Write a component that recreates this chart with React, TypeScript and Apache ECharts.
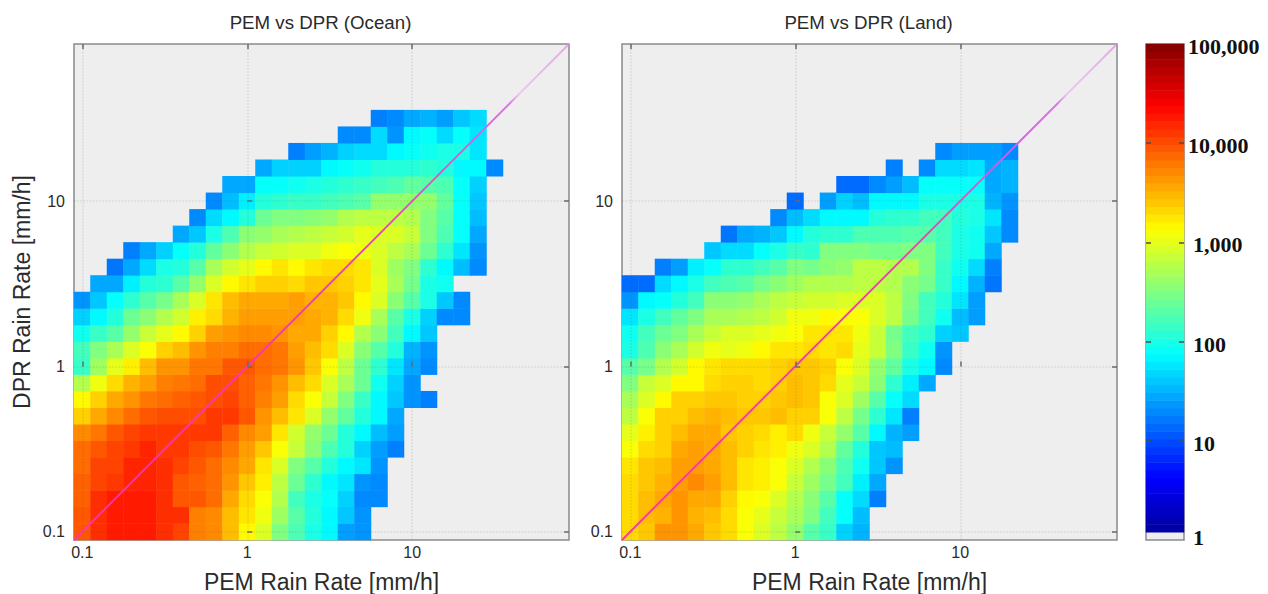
import React, { useEffect, useRef } from "react";
import * as echarts from "echarts";

// Bin centres of the PEM / DPR rain rate axes [mm/h]
const rateBins = [
  "0.1", "0.126", "0.158", "0.2", "0.251", "0.316", "0.398", "0.501", "0.631", "0.794",
  "1", "1.26", "1.58", "2", "2.51", "3.16", "3.98", "5.01", "6.31", "7.94",
  "10", "12.6", "15.8", "20", "25.1", "31.6", "39.8", "50.1", "63.1", "79.4",
];
const rateTickLog = [-1, 0, 1];
const rateTickLabels = ["0.1", "1", "10"];
const countTickLog = [0, 1, 2, 3, 4, 5];
const countTickLabels = ["1", "10", "100", "1,000", "10,000", "100,000"];

// log10(count) per cell; rows go from the lowest DPR bin upward, 0 = no samples
const ocean: number[][] = [
  [3.95, 4.15, 4.25, 4.25, 4.25, 4.15, 4.05, 3.75, 3.7, 3.45, 3.15, 2.95, 2.5, 2.25, 2.0, 1.85, 1.4, 1.35],
  [3.95, 4.15, 4.25, 4.25, 4.25, 4.15, 4.15, 3.75, 3.7, 3.45, 3.25, 3.05, 2.65, 2.3, 2.05, 1.85, 1.6, 1.35],
  [3.9, 4.15, 4.25, 4.25, 4.25, 4.15, 3.95, 3.95, 3.85, 3.55, 3.3, 3.1, 2.75, 2.2, 2.0, 1.9, 1.65, 1.3, 1.3],
  [3.9, 4.05, 4.1, 4.2, 4.2, 4.15, 3.95, 3.9, 3.85, 3.65, 3.4, 3.2, 2.8, 2.4, 2.1, 1.85, 1.75, 1.35, 1.3],
  [3.85, 4.05, 4.05, 4.2, 4.2, 4.15, 4.05, 3.95, 3.85, 3.7, 3.55, 3.25, 2.95, 2.5, 2.3, 2.05, 1.85, 1.75, 1.35],
  [3.85, 3.95, 4.05, 4.1, 4.2, 4.1, 4.1, 4.0, 3.95, 3.8, 3.6, 3.4, 3.1, 2.85, 2.55, 2.25, 2.05, 1.65, 1.4, 1.25],
  [3.7, 3.8, 3.95, 4.05, 4.1, 4.1, 4.1, 4.1, 4.1, 3.9, 3.7, 3.6, 3.25, 2.9, 2.6, 2.4, 2.05, 1.85, 1.55, 1.4],
  [3.35, 3.55, 3.7, 3.85, 3.95, 4.0, 4.0, 4.0, 4.1, 4.1, 3.95, 3.65, 3.45, 3.25, 2.95, 2.6, 2.35, 2.05, 1.85, 1.45],
  [3.15, 3.35, 3.55, 3.65, 3.8, 3.85, 3.9, 3.95, 4.0, 4.05, 3.9, 3.75, 3.6, 3.3, 3.1, 2.85, 2.5, 2.15, 1.85, 1.6, 1.35, 1.25],
  [2.75, 3.05, 3.3, 3.5, 3.6, 3.75, 3.8, 3.85, 4.0, 4.0, 3.9, 3.8, 3.65, 3.45, 3.3, 2.95, 2.7, 2.4, 1.95, 1.65, 1.35],
  [2.15, 2.65, 3.0, 3.2, 3.45, 3.65, 3.65, 3.8, 3.8, 3.95, 3.95, 3.85, 3.8, 3.65, 3.4, 3.1, 2.8, 2.4, 2.1, 1.75, 1.45, 1.3],
  [2.2, 2.5, 2.7, 2.95, 3.1, 3.35, 3.45, 3.65, 3.75, 3.75, 3.85, 3.85, 3.8, 3.6, 3.45, 3.3, 2.95, 2.55, 2.3, 2.05, 1.5, 1.35],
  [1.95, 2.15, 2.3, 2.6, 2.85, 3.0, 3.15, 3.35, 3.6, 3.65, 3.7, 3.7, 3.65, 3.55, 3.55, 3.35, 3.15, 2.75, 2.55, 2.2, 1.85, 1.6],
  [1.65, 1.85, 2.05, 2.4, 2.55, 2.75, 2.9, 3.2, 3.3, 3.5, 3.6, 3.6, 3.6, 3.6, 3.55, 3.5, 3.3, 3.05, 2.7, 2.3, 2.0, 1.65, 1.3, 1.3],
  [1.35, 1.6, 1.9, 2.1, 2.3, 2.45, 2.7, 2.95, 3.25, 3.45, 3.55, 3.55, 3.55, 3.6, 3.5, 3.5, 3.4, 3.15, 2.95, 2.55, 2.3, 2.0, 1.6, 1.3],
  [0, 1.45, 1.45, 1.8, 2.05, 2.1, 2.3, 2.6, 2.95, 3.15, 3.25, 3.35, 3.35, 3.3, 3.4, 3.4, 3.35, 3.25, 3.0, 2.7, 2.45, 2.0, 1.95],
  [0, 0, 1.2, 1.45, 1.7, 2.0, 2.05, 2.3, 2.7, 2.9, 3.0, 3.15, 3.25, 3.15, 3.25, 3.3, 3.3, 3.25, 2.95, 2.65, 2.5, 2.1, 1.85, 1.55, 1.3],
  [0, 0, 0, 1.25, 1.45, 1.65, 1.9, 2.05, 2.35, 2.55, 2.75, 2.85, 2.9, 2.95, 2.95, 3.05, 3.1, 3.05, 2.95, 2.8, 2.7, 2.4, 2.1, 1.75, 1.35],
  [0, 0, 0, 0, 0, 0, 1.45, 1.6, 2.0, 2.25, 2.55, 2.6, 2.7, 2.75, 2.8, 2.85, 2.9, 3.0, 2.95, 2.95, 2.85, 2.5, 2.25, 1.9, 1.45],
  [0, 0, 0, 0, 0, 0, 0, 1.3, 1.7, 1.85, 2.05, 2.4, 2.5, 2.5, 2.55, 2.6, 2.75, 2.8, 2.8, 2.8, 2.75, 2.5, 2.3, 1.9, 1.55],
  [0, 0, 0, 0, 0, 0, 0, 0, 1.3, 1.55, 1.8, 2.05, 2.1, 2.15, 2.15, 2.2, 2.25, 2.3, 2.6, 2.6, 2.6, 2.6, 2.35, 1.9, 1.6],
  [0, 0, 0, 0, 0, 0, 0, 0, 0, 1.45, 1.45, 1.9, 1.9, 1.95, 2.0, 2.05, 2.1, 2.15, 2.2, 2.25, 2.35, 2.3, 2.25, 1.9, 1.65],
  [0, 0, 0, 0, 0, 0, 0, 0, 0, 0, 0, 1.45, 1.65, 1.65, 1.65, 1.85, 1.9, 1.95, 2.05, 2.05, 2.05, 2.1, 2.05, 1.85, 1.85, 1.3],
  [0, 0, 0, 0, 0, 0, 0, 0, 0, 0, 0, 0, 0, 1.25, 1.4, 1.5, 1.65, 1.7, 1.7, 1.85, 1.9, 1.95, 2.0, 2.0, 1.75],
  [0, 0, 0, 0, 0, 0, 0, 0, 0, 0, 0, 0, 0, 0, 0, 0, 1.3, 1.3, 1.7, 1.35, 1.85, 1.9, 1.7, 1.9, 1.75],
  [0, 0, 0, 0, 0, 0, 0, 0, 0, 0, 0, 0, 0, 0, 0, 0, 0, 0, 1.25, 1.3, 1.45, 1.5, 1.4, 1.6, 1.7],
];

const land: number[][] = [
  [3.3, 3.4, 3.65, 3.65, 3.55, 3.4, 3.3, 3.1, 2.95, 2.8, 2.6, 2.3, 2.15, 1.65, 1.5],
  [3.3, 3.45, 3.5, 3.65, 3.5, 3.45, 3.3, 3.1, 3.0, 2.85, 2.7, 2.5, 2.2, 1.9, 1.55],
  [3.3, 3.45, 3.55, 3.65, 3.55, 3.55, 3.35, 3.15, 3.1, 2.95, 2.75, 2.55, 2.3, 1.9, 1.7, 1.25],
  [3.3, 3.4, 3.5, 3.6, 3.7, 3.6, 3.45, 3.25, 3.2, 3.1, 2.85, 2.65, 2.45, 2.2, 1.8, 1.45],
  [3.25, 3.4, 3.45, 3.6, 3.6, 3.55, 3.45, 3.25, 3.2, 3.1, 2.95, 2.75, 2.55, 2.25, 1.95, 1.6, 1.35],
  [3.1, 3.3, 3.35, 3.55, 3.6, 3.55, 3.45, 3.35, 3.25, 3.2, 3.05, 2.95, 2.75, 2.35, 2.05, 1.6, 1.55],
  [3.0, 3.2, 3.35, 3.45, 3.55, 3.55, 3.4, 3.35, 3.3, 3.2, 3.3, 3.05, 2.85, 2.6, 2.3, 1.85, 1.5, 1.4],
  [2.8, 3.1, 3.35, 3.35, 3.45, 3.5, 3.45, 3.4, 3.4, 3.45, 3.35, 3.35, 3.1, 2.8, 2.45, 2.1, 1.75, 1.25],
  [2.7, 2.95, 3.15, 3.35, 3.35, 3.4, 3.4, 3.35, 3.35, 3.4, 3.45, 3.4, 3.1, 2.95, 2.65, 2.3, 1.9, 1.7],
  [2.5, 2.85, 2.95, 3.15, 3.15, 3.3, 3.35, 3.35, 3.3, 3.35, 3.45, 3.4, 3.3, 3.0, 2.85, 2.55, 2.1, 1.8, 1.45],
  [2.3, 2.45, 2.75, 2.9, 3.15, 3.25, 3.3, 3.3, 3.3, 3.35, 3.4, 3.4, 3.35, 3.1, 2.95, 2.6, 2.35, 2.0, 1.85, 1.3],
  [2.0, 2.25, 2.55, 2.7, 2.9, 3.05, 3.0, 3.05, 3.15, 3.25, 3.25, 3.3, 3.25, 3.3, 3.0, 2.85, 2.5, 2.15, 1.95, 1.35],
  [1.95, 2.2, 2.4, 2.5, 2.7, 2.85, 2.95, 2.95, 3.0, 3.05, 3.1, 3.25, 3.25, 3.25, 3.05, 2.85, 2.45, 2.2, 2.1, 1.65, 1.6],
  [1.75, 2.0, 2.2, 2.35, 2.5, 2.7, 2.7, 2.75, 2.8, 2.9, 3.05, 3.05, 3.15, 3.1, 3.1, 2.95, 2.8, 2.45, 2.2, 1.95, 1.55, 1.4],
  [1.35, 1.85, 1.9, 2.05, 2.2, 2.55, 2.55, 2.6, 2.7, 2.8, 2.85, 2.9, 2.9, 2.95, 2.95, 2.95, 2.8, 2.5, 2.2, 2.05, 1.75, 1.4],
  [1.15, 1.15, 1.7, 1.85, 2.0, 2.2, 2.25, 2.3, 2.45, 2.55, 2.65, 2.75, 2.75, 2.75, 2.8, 2.8, 2.75, 2.55, 2.45, 2.15, 1.85, 1.5, 1.2],
  [0, 0, 1.25, 1.4, 1.8, 1.9, 2.1, 2.1, 2.2, 2.3, 2.5, 2.45, 2.55, 2.6, 2.8, 2.8, 2.75, 2.75, 2.5, 2.15, 1.95, 1.7, 1.25],
  [0, 0, 0, 0, 0, 1.6, 1.7, 1.7, 1.9, 2.0, 2.15, 2.1, 2.5, 2.5, 2.5, 2.45, 2.45, 2.5, 2.5, 2.2, 2.0, 1.95, 1.45],
  [0, 0, 0, 0, 0, 0, 1.2, 1.45, 1.5, 1.6, 1.85, 2.05, 2.1, 2.1, 2.25, 2.25, 2.25, 2.3, 2.3, 2.2, 2.0, 1.95, 1.6, 1.3],
  [0, 0, 0, 0, 0, 0, 0, 0, 0, 1.3, 1.55, 1.7, 1.85, 1.85, 1.85, 2.05, 2.1, 2.1, 2.2, 2.2, 2.05, 2.0, 1.75, 1.3],
  [0, 0, 0, 0, 0, 0, 0, 0, 0, 0, 1.15, 0, 1.4, 1.65, 1.55, 1.85, 1.85, 1.85, 2.0, 2.0, 2.0, 2.0, 1.5, 1.35],
  [0, 0, 0, 0, 0, 0, 0, 0, 0, 0, 0, 0, 0, 1.15, 1.15, 1.3, 1.4, 1.55, 1.9, 1.9, 1.9, 1.9, 1.45, 1.5],
  [0, 0, 0, 0, 0, 0, 0, 0, 0, 0, 0, 0, 0, 0, 0, 0, 1.25, 0, 1.3, 1.7, 1.7, 1.75, 1.45, 1.5],
  [0, 0, 0, 0, 0, 0, 0, 0, 0, 0, 0, 0, 0, 0, 0, 0, 0, 0, 0, 1.3, 1.4, 1.4, 1.4, 1.3],
];

const jet = ["#00008f", "#0000ff", "#0080ff", "#00ffff", "#80ff80", "#ffff00", "#ff8000", "#ff0000", "#800000"];

const RATE_MIN = -1.05;
const RATE_MAX = 1.95;
const COUNT_BANDS = 64;
const SANS = "Liberation Sans";
const TEXT = "#2b2b2b";
const BORDER = "#8a8a8a";

const PLOT_TOP = 44;
const PLOT_SIZE_H = 496;
const PLOT_SIZE_W = 495;

const cells = (rows: number[][]) => {
  const out: number[][] = [];
  rows.forEach((row, y) =>
    row.forEach((v, x) => {
      if (v > 0) out.push([x, y, v]);
    })
  );
  return out;
};

const rateLabel = (v: number) => rateTickLabels[rateTickLog.indexOf(Math.round(v))] ?? "";
const countLabel = (v: number) => {
  const s = countTickLabels[Math.round(v)] ?? "";
  if (s === "1") return `{low|${s}}`;
  return s.length > 5 ? `{wide|${s}}` : `{narrow|${s}}`;
};

const buildOption = () => {
  const grid: any[] = [];
  const xAxis: any[] = [];
  const yAxis: any[] = [];
  const series: any[] = [];
  const title: any[] = [];
  const heatIndexes: number[] = [];

  const tickStyle = { show: true, inside: true, length: 5, customValues: rateTickLog, lineStyle: { color: "#6a6a6a", width: 1.5 } };
  const axisLine = { show: false };

  const addPanel = (left: number, rows: number[][], name: string, showYName: boolean) => {
    const g = grid.length;
    grid.push({
      left, top: PLOT_TOP, width: PLOT_SIZE_W, height: PLOT_SIZE_H, show: true, outerBoundsMode: "none",
      backgroundColor: "#eeeeee", borderColor: BORDER, borderWidth: 1.5,
    });
    title.push({
      text: name, left: left + PLOT_SIZE_W / 2 - 6, top: 8, textAlign: "center",
      textStyle: { fontFamily: SANS, fontSize: 18.7, fontWeight: "normal", color: TEXT },
    });
    const x0 = xAxis.length;
    const y0 = yAxis.length;
    const cat = () => ({ type: "category", gridIndex: g, data: rateBins, show: false, boundaryGap: true });
    xAxis.push(cat());
    yAxis.push(cat());
    xAxis.push({
      type: "value", gridIndex: g, position: "bottom", min: RATE_MIN, max: RATE_MAX, z: 10,
      name: "PEM Rain Rate [mm/h]", nameLocation: "middle", nameGap: 30,
      nameTextStyle: { fontFamily: SANS, fontSize: 23, color: TEXT },
      axisLine, axisTick: tickStyle, splitLine: { show: false },
      axisLabel: { customValues: rateTickLog, formatter: rateLabel, fontFamily: SANS, fontSize: 16, color: TEXT, margin: 4 },
    });
    xAxis.push({
      type: "value", gridIndex: g, position: "top", min: RATE_MIN, max: RATE_MAX, z: 10,
      axisLine, axisTick: tickStyle, axisLabel: { show: false }, splitLine: { show: false },
    });
    yAxis.push({
      type: "value", gridIndex: g, position: "left", min: RATE_MIN, max: RATE_MAX, z: 10,
      name: showYName ? "DPR Rain Rate [mm/h]" : "", nameLocation: "middle", nameGap: 41,
      nameTextStyle: { fontFamily: SANS, fontSize: 23, color: TEXT },
      axisLine, axisTick: tickStyle, splitLine: { show: false },
      axisLabel: { customValues: rateTickLog, formatter: rateLabel, fontFamily: SANS, fontSize: 16, color: TEXT, margin: 9 },
    });
    yAxis.push({
      type: "value", gridIndex: g, position: "right", min: RATE_MIN, max: RATE_MAX, z: 10,
      axisLine, axisTick: tickStyle, axisLabel: { show: false }, splitLine: { show: false },
    });
    heatIndexes.push(series.length);
    series.push({ type: "heatmap", name, xAxisIndex: x0, yAxisIndex: y0, data: cells(rows), itemStyle: { borderWidth: 0 }, emphasis: { disabled: true } });
    series.push({
      type: "line", name: `${name} 1:1`, xAxisIndex: x0 + 1, yAxisIndex: y0 + 1, z: 6, silent: true,
      symbol: "none",
      lineStyle: {
        width: 1.9,
        color: new echarts.graphic.LinearGradient(0, 1, 1, 0, [
          { offset: 0, color: "#ff3796" },
          { offset: 0.55, color: "#f03cb4" },
          { offset: 0.8, color: "#dc5ae6" },
          { offset: 0.88, color: "#e070f0" },
          { offset: 0.9, color: "rgba(240,170,240,0.6)" },
          { offset: 1, color: "rgba(235,130,235,0.7)" },
        ]),
      },
      data: [[RATE_MIN, RATE_MIN], [RATE_MAX, RATE_MAX]],
      markLine: {
        silent: true, symbol: "none", label: { show: false }, animation: false,
        lineStyle: { color: "rgba(70,70,70,0.13)", type: "dotted", width: 1.6 },
        data: [
          ...rateTickLog.map((v) => ({ xAxis: v })),
          ...rateTickLog.map((v) => ({ yAxis: v })),
        ],
      },
    });
  };

  addPanel(74, ocean, "PEM vs DPR (Ocean)", true);
  addPanel(622, land, "PEM vs DPR (Land)", false);

  // Colour bar
  const g = grid.length;
  grid.push({
    left: 1146, top: PLOT_TOP, width: 38, height: PLOT_SIZE_H, show: true, outerBoundsMode: "none",
    backgroundColor: "#eeeeee", borderColor: BORDER, borderWidth: 1.5,
  });
  const bandLabels = Array.from({ length: COUNT_BANDS }, (_, i) => String(i));
  const x0 = xAxis.length;
  const y0 = yAxis.length;
  xAxis.push({ type: "category", gridIndex: g, data: ["count"], show: false });
  yAxis.push({ type: "category", gridIndex: g, data: bandLabels, show: false });
  const barTicks = { show: true, inside: true, length: 5, customValues: [1, 2, 3, 4], lineStyle: { color: "#4d4d4d", width: 1.5 } };
  const serif = { fontFamily: "Liberation Serif", fontSize: 22, fontWeight: "bold", color: "#111" };
  yAxis.push({
    type: "value", gridIndex: g, position: "right", min: 0, max: 5, z: 10,
    axisLine, axisTick: barTicks, splitLine: { show: false },
    axisLabel: {
      customValues: countTickLog, formatter: countLabel, margin: 4, color: "#111",
      rich: {
        wide: { ...serif, padding: [5, 0, 0, 0] },
        narrow: { ...serif, padding: [5, 0, 0, 5] },
        low: { ...serif, padding: [0, 0, 6, 5] },
      },
    },
  });
  yAxis.push({
    type: "value", gridIndex: g, position: "left", min: 0, max: 5, z: 10,
    axisLine, axisTick: barTicks, axisLabel: { show: false }, splitLine: { show: false },
  });
  heatIndexes.push(series.length);
  series.push({
    type: "heatmap", name: "Colour scale", xAxisIndex: x0, yAxisIndex: y0, emphasis: { disabled: true },
    data: bandLabels.slice(1).map((_, i) => [0, i + 1, ((i + 1.5) * 5) / COUNT_BANDS]),
  });

  return {
    animation: false,
    backgroundColor: "#ffffff",
    title,
    grid,
    xAxis,
    yAxis,
    series,
    visualMap: {
      type: "continuous", show: false, min: 0, max: 5, dimension: 2,
      seriesIndex: heatIndexes, inRange: { color: jet },
    },
  };
};

export default function App() {
  const ref = useRef<HTMLDivElement>(null);
  useEffect(() => {
    const chart = echarts.init(ref.current!, undefined, { renderer: "svg" });
    chart.setOption(buildOption() as any);
    return () => chart.dispose();
  }, []);
  return <div ref={ref} style={{ position: "absolute", left: 0, top: 0, width: 1268, height: 594 }} />;
}
